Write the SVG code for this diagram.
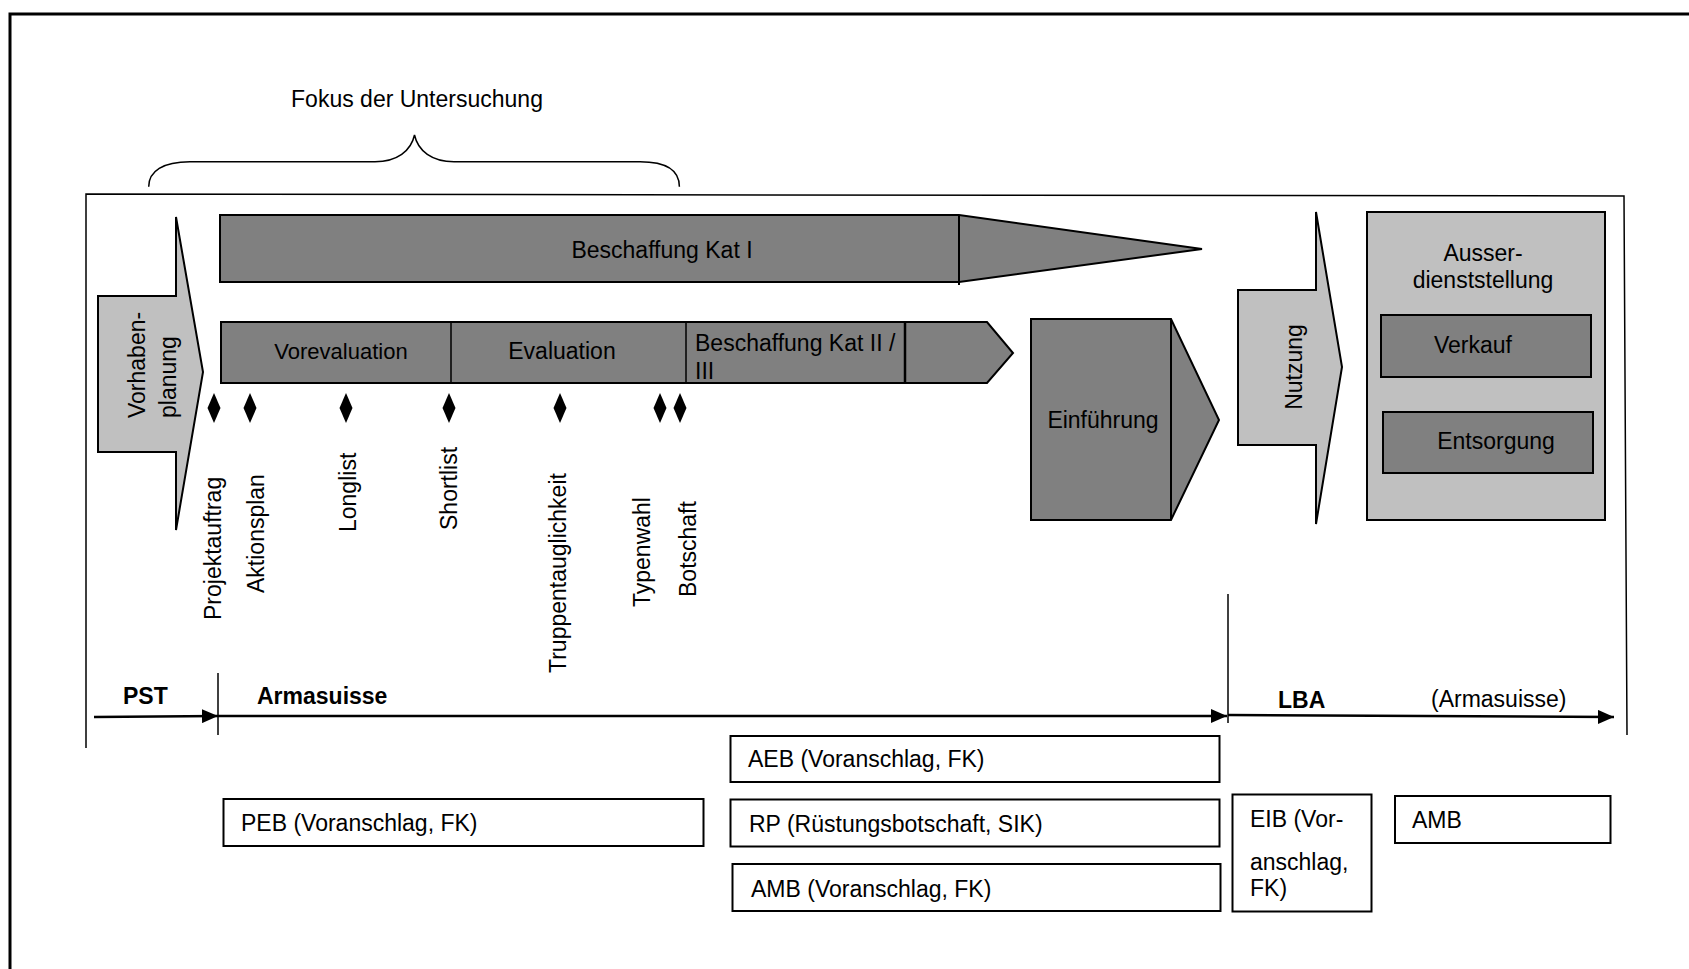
<svg xmlns="http://www.w3.org/2000/svg" width="1689" height="969" viewBox="0 0 1689 969">
  <style>
    text { font-family: "Liberation Sans", Arial, sans-serif; font-size: 23px; fill: #000; }
    .bold { font-weight: bold; }
    .mid { text-anchor: middle; }
    .dark { fill: #808080; stroke: #000; stroke-width: 2; stroke-linejoin: miter; }
    .light { fill: #c0c0c0; stroke: #000; stroke-width: 2; }
    .box { fill: #fff; stroke: #000; stroke-width: 2; }
    .thin { fill: none; stroke: #000; stroke-width: 1.5; }
    .axis { fill: none; stroke: #000; stroke-width: 2.5; }
    .ms { fill: #000; }
  </style>
  <defs>
    <marker id="head" viewBox="0 0 16 14" refX="16" refY="7" markerWidth="16" markerHeight="14" markerUnits="userSpaceOnUse" orient="auto">
      <path d="M0,0 L16,7 L0,14 Z" fill="#000"/>
    </marker>
  </defs>

  <rect width="1689" height="969" fill="#fff"/>

  <!-- page frame -->
  <path d="M10,975 L10,14 L1695,14" fill="none" stroke="#000" stroke-width="3"/>

  <!-- process frame, open at the bottom -->
  <path class="thin" d="M86,748 L86,194 L1624,196 L1627,735"/>

  <!-- focus brace -->
  <g id="focus">
    <path class="thin" d="M148.7,186.7 C148.7,171 163,161.7 190,161.7 L375,161.7 C397,161.7 411,151 414.5,135 C418,151 432,161.7 454,161.7 L640,161.7 C667,161.7 679.4,171 679.4,186.7"/>
    <text class="mid" x="417" y="107">Fokus der Untersuchung</text>
  </g>

  <g id="vorhabenplanung">
    <path class="light" d="M98,296 L176,296 L176,217 L203,372 L176,530 L176,452 L98,452 Z"/>
    <text transform="translate(145,418) rotate(-90)">Vorhaben-</text>
    <text transform="translate(176,418) rotate(-90)">planung</text>
  </g>

  <g id="kat1">
    <path class="dark" d="M220,215 L959,215 L1202,249 L959,282 L220,282 Z"/>
    <line x1="959" y1="215" x2="959" y2="285" stroke="#000" stroke-width="2"/>
    <text class="mid" x="662" y="258">Beschaffung Kat I</text>
  </g>

  <g id="kat2">
    <path class="dark" d="M221,322 L987,322 L1013,353 L987,383 L221,383 Z"/>
    <line x1="451" y1="322" x2="451" y2="383" stroke="#000" stroke-width="1.5"/>
    <line x1="686" y1="322" x2="686" y2="383" stroke="#000" stroke-width="1.5"/>
    <line x1="905" y1="322" x2="905" y2="383" stroke="#000" stroke-width="2.5"/>
    <text class="mid" style="font-size:22px" x="341" y="359">Vorevaluation</text>
    <text class="mid" x="562" y="359">Evaluation</text>
    <text x="695" y="351">Beschaffung Kat II /</text>
    <text x="695" y="379">III</text>
  </g>

  <g id="milestones">
    <path class="ms" d="M214,393 L220.5,408 L214,423 L207.5,408 Z"/>
    <path class="ms" d="M250,393 L256.5,408 L250,423 L243.5,408 Z"/>
    <path class="ms" d="M346,393 L352.5,408 L346,423 L339.5,408 Z"/>
    <path class="ms" d="M449,393 L455.5,408 L449,423 L442.5,408 Z"/>
    <path class="ms" d="M560,393 L566.5,408 L560,423 L553.5,408 Z"/>
    <path class="ms" d="M660,393 L666.5,408 L660,423 L653.5,408 Z"/>
    <path class="ms" d="M680,393 L686.5,408 L680,423 L673.5,408 Z"/>
    <text transform="translate(221,620) rotate(-90)">Projektauftrag</text>
    <text transform="translate(264,593) rotate(-90)">Aktionsplan</text>
    <text transform="translate(356,532) rotate(-90)">Longlist</text>
    <text transform="translate(457,530) rotate(-90)">Shortlist</text>
    <text transform="translate(566,673) rotate(-90)">Truppentauglichkeit</text>
    <text transform="translate(650,607) rotate(-90)">Typenwahl</text>
    <text transform="translate(696,597) rotate(-90)">Botschaft</text>
  </g>

  <g id="einfuehrung">
    <path class="dark" d="M1031,319 L1171,319 L1219,420 L1171,520 L1031,520 Z"/>
    <line x1="1171" y1="319" x2="1171" y2="520" stroke="#000" stroke-width="2"/>
    <text class="mid" x="1103" y="428">Einführung</text>
  </g>

  <g id="nutzung">
    <path class="light" d="M1238,290 L1316,290 L1316,212 L1342,367 L1316,524 L1316,445 L1238,445 Z"/>
    <text class="mid" transform="translate(1302,367) rotate(-90)">Nutzung</text>
  </g>

  <g id="ausserdienststellung">
    <rect class="light" x="1367" y="212" width="238" height="308"/>
    <text class="mid" x="1483" y="261">Ausser-</text>
    <text class="mid" x="1483" y="288">dienststellung</text>
  </g>

  <g id="verkauf">
    <rect class="dark" x="1381" y="315" width="210" height="62"/>
    <text class="mid" x="1473" y="353">Verkauf</text>
  </g>

  <g id="entsorgung">
    <rect class="dark" x="1383" y="412" width="210" height="61"/>
    <text class="mid" x="1496" y="449">Entsorgung</text>
  </g>

  <!-- responsibility timeline -->
  <g id="connectors">
    <path class="axis" d="M94,717 L218,716" marker-end="url(#head)"/>
    <path class="axis" d="M218,716 L1227,716" marker-end="url(#head)"/>
    <path class="axis" d="M1228,715 L1614,717" marker-end="url(#head)"/>
    <line x1="218" y1="673" x2="218" y2="735" stroke="#000" stroke-width="1.5"/>
    <line x1="1228" y1="594" x2="1228" y2="723" stroke="#000" stroke-width="1.5"/>
  </g>

  <g id="labels">
    <text class="bold" x="123" y="704">PST</text>
    <text class="bold" x="257" y="704">Armasuisse</text>
    <text class="bold" x="1278" y="708">LBA</text>
    <text x="1431" y="707">(Armasuisse)</text>
  </g>

  <g id="peb">
    <rect class="box" x="223.5" y="799" width="480" height="47"/>
    <text x="241" y="831">PEB (Voranschlag, FK)</text>
  </g>
  <g id="aeb">
    <rect class="box" x="730.5" y="736" width="489" height="46"/>
    <text x="748" y="767">AEB (Voranschlag, FK)</text>
  </g>
  <g id="rp">
    <rect class="box" x="730.5" y="799.5" width="489" height="47"/>
    <text x="749" y="832">RP (Rüstungsbotschaft, SIK)</text>
  </g>
  <g id="amb-kat">
    <rect class="box" x="732.5" y="864" width="488" height="47"/>
    <text x="751" y="897">AMB (Voranschlag, FK)</text>
  </g>
  <g id="eib">
    <rect class="box" x="1232.5" y="794.5" width="139" height="117"/>
    <text x="1250" y="827">EIB (Vor-</text>
    <text x="1250" y="870">anschlag,</text>
    <text x="1250" y="896">FK)</text>
  </g>
  <g id="amb">
    <rect class="box" x="1395" y="796" width="215.5" height="47"/>
    <text x="1412" y="828">AMB</text>
  </g>
</svg>
